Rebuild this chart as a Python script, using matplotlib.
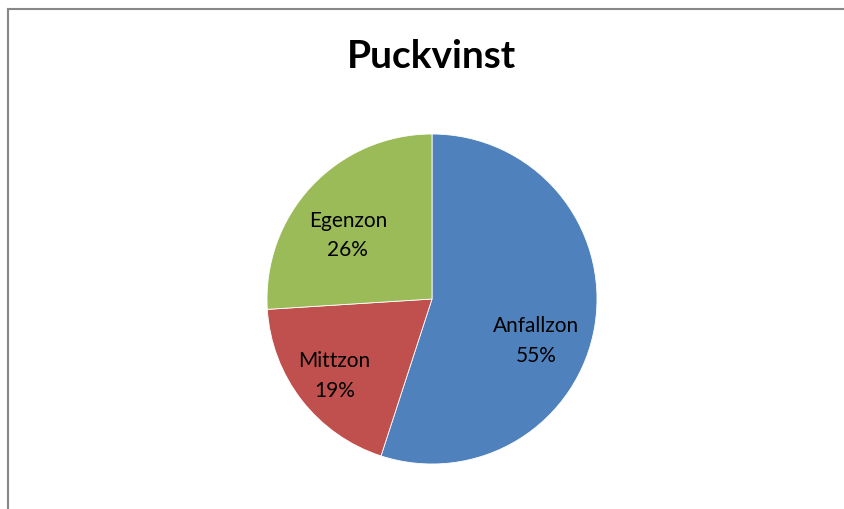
import matplotlib
matplotlib.use("Agg")
import matplotlib.pyplot as plt
from matplotlib.lines import Line2D

categories = ["Anfallzon", "Mittzon", "Egenzon"]
values = [55, 19, 26]
colors = ["#4F81BD", "#C0504D", "#9BBB59"]
title = "Puckvinst"

# label offsets (layout, in pie-radius units)
label_pos = [(0.63, -0.25), (-0.59, -0.46), (-0.51, 0.39)]

plt.rcParams['font.family'] = ['Lato', 'DejaVu Sans']

W, H = 845, 510
fig = plt.figure(figsize=(W / 100, H / 100), dpi=100)
fig.patch.set_facecolor('white')

# chart area border: top and left lines only visible
bx, by = 8.5 / W, 1 - 9.5 / H
fig.add_artist(Line2D([bx, 1.0], [by, by], transform=fig.transFigure,
                      color='#878787', linewidth=1.5))
fig.add_artist(Line2D([bx, bx], [by, 0.0], transform=fig.transFigure,
                      color='#878787', linewidth=1.5))

cx, cy, r = 432, 300, 165
ax = fig.add_axes([(cx - r) / W, (H - cy - r) / H, 2 * r / W, 2 * r / H])
ax.pie(values, colors=colors, startangle=90, counterclock=False, radius=1.0,
       wedgeprops=dict(linewidth=0.6, edgecolor='white'))
ax.set_xlim(-1, 1)
ax.set_ylim(-1, 1)
ax.set_aspect('equal')
ax.axis('off')

total = sum(values)
for cat, v, (x, y) in zip(categories, values, label_pos):
    ax.text(x, y, f"{cat}\n{round(100 * v / total)}%", ha='center', va='center',
            fontsize=15, color='black', linespacing=1.6)

fig.text(cx / W, 1 - 56 / H, title, ha='center', va='center',
         fontsize=28, fontweight='bold', color='black')

fig.savefig("out.png", dpi=100, facecolor='white')
